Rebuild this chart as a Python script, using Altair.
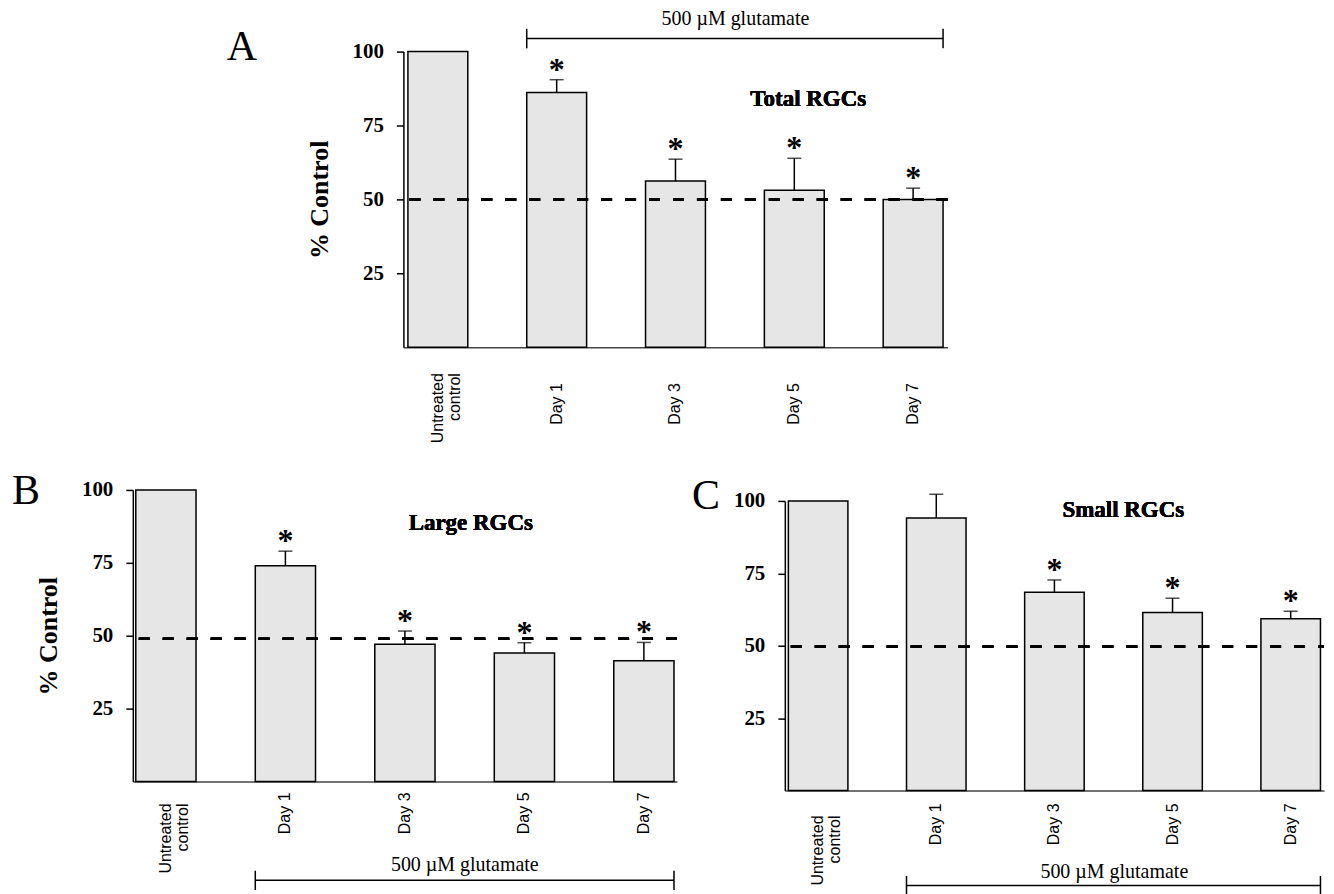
import altair as alt
import pandas as pd

# ---------------- data ----------------
categories = ["Untreated control", "Day 1", "Day 3", "Day 5", "Day 7"]
y_ticks = [25, 50, 75, 100]

total_mean = [100, 86.2, 56.2, 53.1, 50.0]
total_sem = [0, 4.3, 7.4, 10.8, 3.8]
total_sig = [False, True, True, True, True]

large_mean = [100, 74.0, 47.1, 44.1, 41.4]
large_sem = [0, 5.0, 4.5, 3.5, 6.3]
large_sig = [False, True, True, True, True]

small_mean = [100, 94.1, 68.5, 61.5, 59.3]
small_sem = [0, 8.2, 4.2, 4.9, 2.6]
small_sig = [False, False, True, True, True]

panel_letters = ["A", "B", "C"]
panel_titles = ["Total RGCs", "Large RGCs", "Small RGCs"]
reference_levels = [50, 49, 49.7]
treatment_label = "500 \u00b5M glutamate"
y_title = "% Control"
control_label_lines = ["Untreated", "control"]

SERIF = "Liberation Serif"
SANS = "Liberation Sans"


def make_panel(letter, title, mean, sem, sig, ref, cfg):
    df = pd.DataFrame({"cat": categories, "mean": mean, "sem": sem, "sig": sig})
    df["top"] = df["mean"] + df["sem"]
    base = alt.Chart(df)
    h = cfg["h"]
    top = cfg.get("top", 0)
    left = cfg.get("left", 0)
    H = h + top
    W = cfg["w"] + left

    xscale = alt.Scale(domain=categories, paddingInner=0.496, paddingOuter=cfg["po"],
                       range=[left, W])
    xaxis = alt.Axis(
        title=None, labels=False, ticks=False, tickSize=0,
        domainColor="#444", domainWidth=1.5,
    )
    yaxis = alt.Axis(
        values=y_ticks, title=y_title if cfg["ytitle"] else None,
        titleFont=SERIF, titleFontSize=26, titleFontWeight="bold", titleColor="black",
        titlePadding=20, offset=-left,
        labelFont=SERIF, labelFontSize=21, labelFontWeight="bold", labelColor="black",
        labelPadding=13, tickColor="black", tickSize=7, tickWidth=1.5,
        domainColor="black", domainWidth=1.5, grid=False,
    )
    X = alt.X("cat:N", scale=xscale, axis=xaxis)
    yscale = alt.Scale(domain=[0, 100], nice=False, zero=True, range=[H, top])

    bars = base.mark_bar(fill="#e6e6e6", stroke="black", strokeWidth=1.5).encode(
        x=X, y=alt.Y("mean:Q", scale=yscale, axis=yaxis)
    )
    err = base.transform_filter("datum.sem > 0").mark_rule(
        color="black", strokeWidth=1.5
    ).encode(x=alt.X("cat:N"), y="mean:Q", y2="top:Q")
    cap = base.transform_filter("datum.sem > 0").mark_tick(
        orient="horizontal", size=14, thickness=1.5, color="black"
    ).encode(x=alt.X("cat:N"), y="top:Q")
    stars = base.transform_filter("datum.sig").mark_text(
        text="*", font=SERIF, fontSize=32, fontWeight="bold", baseline="alphabetic",
        dy=0, color="black"
    ).encode(x=alt.X("cat:N"), y="top:Q")
    dash = base.mark_rule(strokeDash=[11, 13], strokeWidth=2.5, color="black").encode(
        x=alt.value(left + 6), x2=alt.value(W), y=alt.YDatum(ref)
    )
    title_txt = base.mark_text(
        text=title, font=SERIF, fontSize=23, fontWeight="bold", color="black",
        dx=cfg["tdx"]
    ).encode(x=alt.XDatum(cfg["tcat"], type="nominal"), y=alt.YDatum(cfg["ty"]))

    # category labels under the bars (rotated), drawn as text marks
    day_labels = base.transform_filter("datum.cat != 'Untreated control'").mark_text(
        angle=270, align="right", baseline="middle", font=SANS, fontSize=16, color="black"
    ).encode(x=alt.X("cat:N"), y=alt.value(H + cfg["pad_d"]), text="cat:N")
    ctrl_label = base.transform_filter("datum.cat == 'Untreated control'").mark_text(
        angle=270, align="right", baseline="middle", font=SANS, fontSize=16,
        color="black", lineHeight=17, text=control_label_lines
    ).encode(x=alt.X("cat:N"), y=alt.value(H + cfg["pad_u"]))

    br = pd.DataFrame({"start": ["Day 1"], "end": ["Day 7"]})
    bbase = alt.Chart(br)
    by = cfg["by"]
    br_line = bbase.mark_rule(color="black", strokeWidth=1.5).encode(
        x=alt.X("start:N", bandPosition=0), x2=alt.X2("end:N", bandPosition=1),
        y=alt.YDatum(by)
    )
    br_l = bbase.mark_rule(color="black", strokeWidth=1.5).encode(
        x=alt.X("start:N", bandPosition=0), y=alt.YDatum(by - 3.3), y2=alt.Y2Datum(by + 3.3)
    )
    br_r = bbase.mark_rule(color="black", strokeWidth=1.5).encode(
        x=alt.X("end:N", bandPosition=1), y=alt.YDatum(by - 3.3), y2=alt.Y2Datum(by + 3.3)
    )
    br_txt = bbase.mark_text(
        text=treatment_label, font=SERIF, fontSize=20, color="black", dx=60
    ).encode(x=alt.XDatum("Day 3", type="nominal"), y=alt.YDatum(cfg["bty"]))

    letter_txt = alt.Chart(pd.DataFrame({"t": [letter]})).mark_text(
        text=letter, font=SERIF, fontSize=42, align="left", baseline="middle", color="black"
    ).encode(x=alt.value(cfg["lx"] + left), y=alt.value(cfg["ly"] + top))

    return alt.layer(
        bars, dash, err, cap, stars, title_txt, day_labels, ctrl_label,
        br_line, br_l, br_r, br_txt, letter_txt
    ).properties(width=W, height=H)


cfgA = dict(po=0.038, pad_u=26, pad_d=36, ytitle=True, tcat="Day 5", tdx=14, ty=84,
            by=104.4, bty=111.1, lx=-177, ly=-5, w=545, h=296, left=271)
cfgB = dict(po=0.025, pad_u=22, pad_d=11, ytitle=True, tcat="Day 3", tdx=66, ty=88.7,
            by=-33.9, bty=-28.8, lx=-121, ly=1, w=545, h=292)
cfgC = dict(po=0.03, pad_u=25, pad_d=13, ytitle=False, tcat="Day 3", tdx=69, ty=97,
            by=-32.8, bty=-28.3, lx=-93, ly=-5, w=540, h=290, top=11)

A = make_panel(panel_letters[0], panel_titles[0], total_mean, total_sem, total_sig,
               reference_levels[0], cfgA)
B = make_panel(panel_letters[1], panel_titles[1], large_mean, large_sem, large_sig,
               reference_levels[1], cfgB)
C = make_panel(panel_letters[2], panel_titles[2], small_mean, small_sem, small_sig,
               reference_levels[2], cfgC)

row2 = alt.hconcat(B, C, spacing=108, bounds="flush")
chart = alt.vconcat(A, row2, spacing=143, bounds="flush").properties(
    padding={"left": 4, "top": 0, "right": 0, "bottom": 0}, background="white"
).configure_view(stroke=None)

chart.save("out.html", embed_options={"renderer": "svg", "actions": False})
